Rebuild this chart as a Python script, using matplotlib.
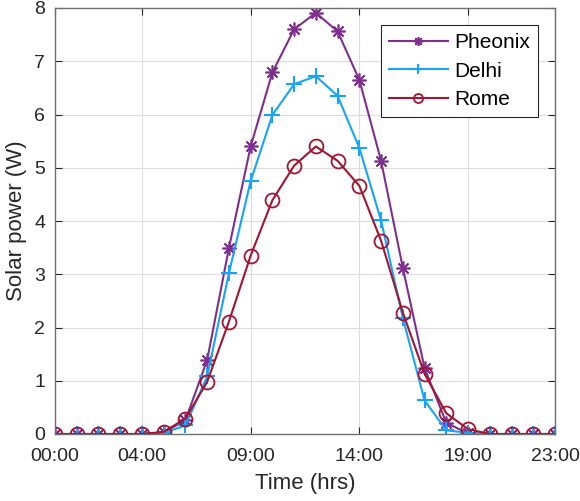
import matplotlib
matplotlib.use("Agg")
import matplotlib.pyplot as plt

hours = list(range(24))
xtick_pos = [0, 4, 9, 14, 19, 23]
xtick_labels = ["00:00", "04:00", "09:00", "14:00", "19:00", "23:00"]

pheonix = [0, 0, 0, 0, 0, 0.03, 0.26, 1.39, 3.49, 5.40, 6.79, 7.60, 7.91, 7.56,
           6.65, 5.13, 3.12, 1.24, 0.21, 0.01, 0, 0, 0, 0]
delhi = [0, 0, 0, 0, 0, 0.02, 0.16, 1.08, 3.02, 4.75, 5.99, 6.57, 6.72, 6.35,
         5.37, 4.01, 2.18, 0.63, 0.07, 0.02, 0, 0, 0, 0]
rome = [0, 0, 0, 0, 0, 0.04, 0.29, 0.98, 2.11, 3.35, 4.39, 5.04, 5.40, 5.13,
        4.66, 3.63, 2.28, 1.13, 0.39, 0.09, 0, 0, 0, 0]

plt.rcParams['font.family'] = ['Liberation Sans', 'DejaVu Sans']

fig = plt.figure(figsize=(5.8, 5.01), dpi=100)
ax = fig.add_axes([55/580, 1 - 434/501, 500/580, 426/501])

ax.plot(hours, pheonix, color='#7E2F8E', marker=(8, 2, 0), markersize=10,
        markeredgewidth=1.2, linewidth=1.5, label='Pheonix')
ax.plot(hours, delhi, color='#16A4FA', marker='+', markersize=11,
        markeredgewidth=1.5, linewidth=1.5, label='Delhi')
ax.plot(hours, rome, color='#A2142F', marker='o', markersize=10,
        markerfacecolor='none', markeredgewidth=1.3, linewidth=1.5, label='Rome')

ax.set_xlim(0, 23)
ax.set_ylim(0, 8)
ax.set_xticks(xtick_pos)
ax.set_xticklabels(xtick_labels)
ax.set_yticks(range(0, 9))
ax.tick_params(direction='in', length=5, width=0.8, labelsize=14,
               top=True, right=True, colors='#262626', labelcolor='#262626')
ax.tick_params(axis='x', pad=10)
ax.tick_params(axis='y', pad=7)
ax.grid(True, color='#DCDCDC', linewidth=0.8)
ax.set_axisbelow(True)
for s in ax.spines.values():
    s.set_color('#6F6F6F')
    s.set_linewidth(1.0)

ax.set_xlabel('Time (hrs)', fontsize=16, color='#262626', labelpad=6)
ax.set_ylabel('Solar power (W)', fontsize=16, color='#262626', labelpad=5)

leg = ax.legend(loc='upper right', bbox_to_anchor=(0.966, 0.960), borderaxespad=0,
                fontsize=15, fancybox=False, framealpha=1, edgecolor='#262626',
                handlelength=2.8, handletextpad=0.3, borderpad=0.4,
                labelspacing=0.45, markerscale=0.65)
leg.get_frame().set_linewidth(0.8)
for t in leg.get_texts():
    t.set_color('#000000')

fig.savefig('out.png', dpi=100)
